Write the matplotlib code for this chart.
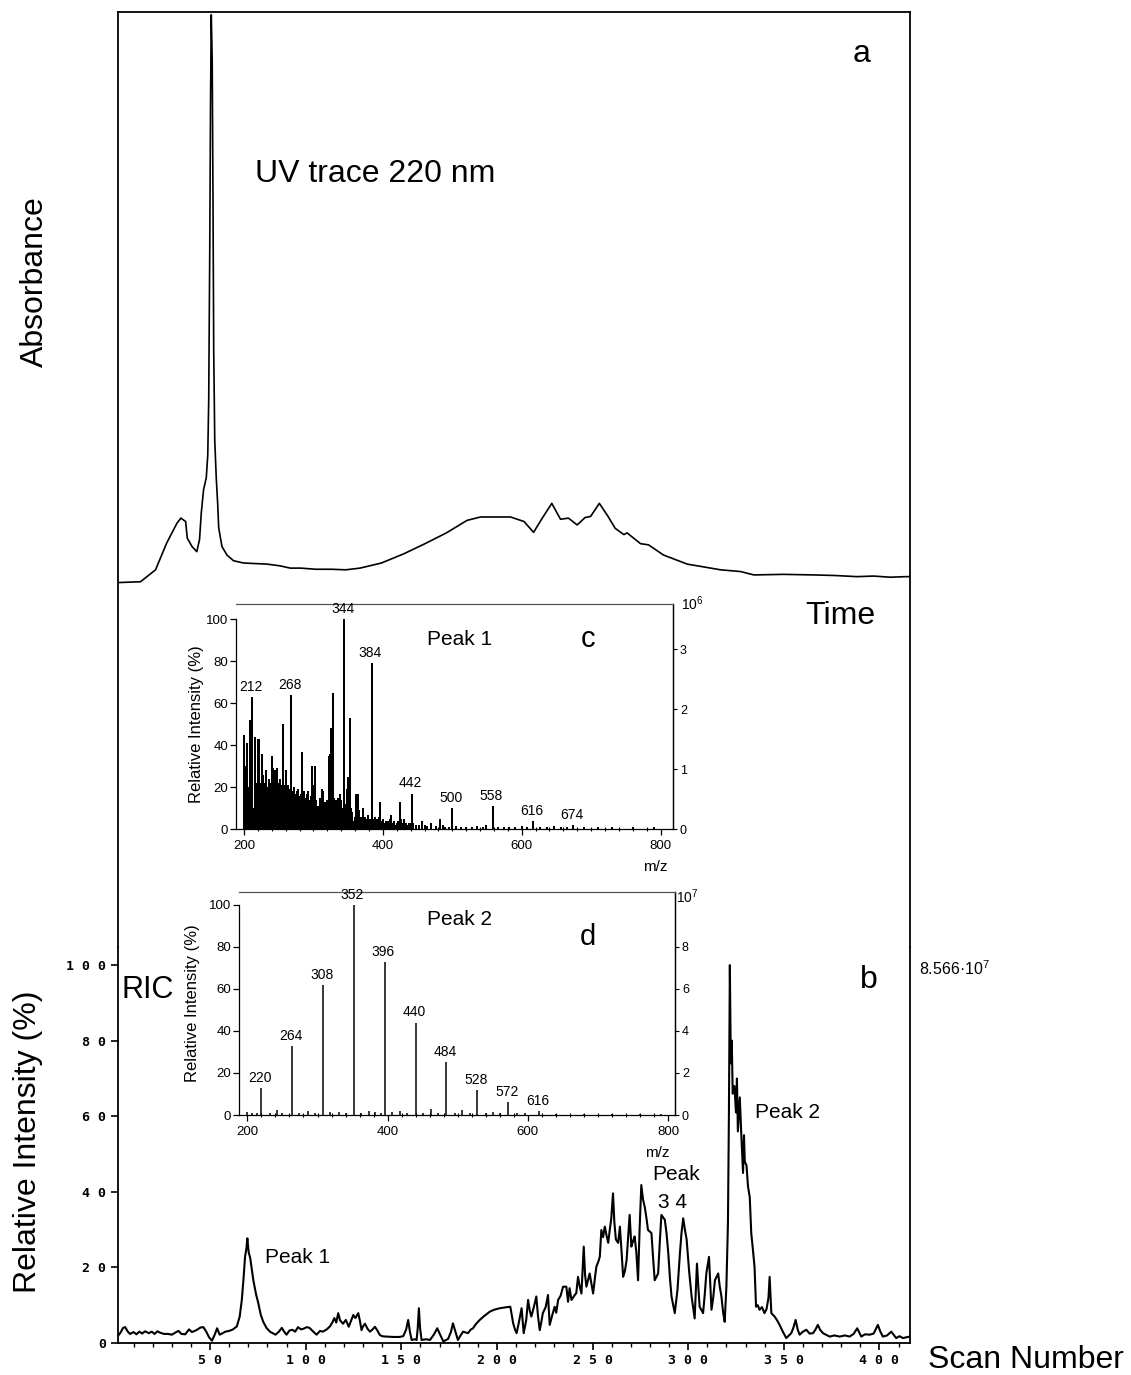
import numpy as np
import matplotlib
matplotlib.use("Agg")
import matplotlib.pyplot as plt
from matplotlib.ticker import MultipleLocator

plt.rcParams['font.family'] = ['Liberation Sans', 'DejaVu Sans']
plt.rcParams['mathtext.fontset'] = 'custom'
plt.rcParams['mathtext.rm'] = 'Liberation Sans'

W, H = 1131, 1375

# ---- panel a : UV trace (arbitrary time units 0-100, absorbance in % of max)
uv_time = [0, 2.9, 4.8, 6.2, 7.5, 8.0, 8.6, 8.8, 9.4, 10.0,
           10.35, 10.57, 10.86, 11.2, 11.39, 11.51, 11.64, 11.74, 11.83, 11.95,
           12.05, 12.14, 12.27, 12.46, 12.65, 12.77, 13.18, 13.81, 14.64, 15.9,
           18.9, 20.5, 21.8, 23.1, 25.0, 27.0, 28.8, 30.6, 33.3, 36.1,
           38.8, 41.5, 44.1, 45.8, 49.6, 51.3, 52.5, 53.6, 54.8, 55.9,
           56.9, 58.0, 59.0, 59.7, 60.8, 61.9, 62.8, 63.9, 64.3, 66.0,
           67.0, 68.9, 71.9, 73.6, 76.1, 78.6, 80.3, 84.0, 87.9, 90.5,
           93.3, 95.4, 97.5, 99.6, 100]
uv_abs = [0.05, 0.2, 2.3, 7.0, 10.5, 11.4, 10.8, 7.9, 6.4, 5.5,
          7.6, 12.3, 16.4, 18.5, 22.5, 32.2, 58.6, 85.0, 100.0, 92.1,
          67.4, 41.0, 25.2, 18.5, 13.7, 9.7, 6.4, 4.9, 3.9, 3.5,
          3.3, 3.0, 2.6, 2.6, 2.4, 2.4, 2.3, 2.6, 3.5, 5.1,
          6.9, 8.8, 11.0, 11.6, 11.6, 10.8, 8.9, 11.4, 14.0, 11.2,
          11.4, 10.2, 11.5, 11.7, 14.0, 11.7, 9.6, 8.5, 8.8, 6.9,
          6.7, 4.9, 3.3, 2.9, 2.3, 2.0, 1.4, 1.5, 1.4, 1.3,
          1.1, 1.2, 1.0, 1.1, 1.1]

# ---- panel b : reconstructed ion current
ric_scan = [2, 3, 4.5, 5.6, 7, 8.2, 10, 11.5, 13, 14.5,
            16, 18, 19.5, 21, 22.5, 24, 26, 28, 30, 32,
            33.5, 35, 37, 39, 40.5, 42, 43.5, 45, 46.5, 48,
            49.5, 51, 52.5, 53.7, 55, 56.6, 58, 60, 62, 64,
            65.5, 66.6, 67.5, 68.3, 69, 69.5, 70.2, 71, 71.8, 72.6,
            74, 75.2, 76.5, 77.8, 79.5, 81.3, 82.8, 84.2, 86, 87.5,
            89, 90, 91.5, 93, 94.5, 96, 97.5, 99, 100.5, 102,
            104, 105.7, 107.5, 109, 111, 112.7, 114, 115, 116, 117,
            118, 119.5, 121, 122.5, 124, 124.9, 126, 127.5, 128.5, 129.2,
            130, 131, 132.3, 133.6, 135, 136.2, 137.5, 138.8, 140, 142,
            146, 149, 151, 152.5, 153.6, 154.5, 155.4, 157, 158, 158.6,
            159.2, 159.8, 160.6, 163, 165, 167, 168.8, 170.5, 172, 174.5,
            176, 177, 178.3, 179.6, 181, 182.3, 184.9, 186.2, 187.5, 189,
            191, 193, 194.5, 196.3, 198.5, 201.5, 204, 207, 208.5, 209.5,
            210.3, 211.5, 212.9, 214, 215.3, 216.3, 217.2, 218, 219.3, 220.6,
            221.5, 222.4, 223.2, 224, 225.5, 226.7, 227.6, 229, 230.2, 231,
            232, 233.3, 234.6, 236.3, 237.2, 238, 239, 240.7, 241.5, 242.4,
            243.3, 244.2, 245.4, 246.1, 246.8, 247.6, 248.5, 250.3, 251.2, 252,
            253, 253.8, 254.6, 255.5, 256.4, 257.3, 258.2, 259, 259.8, 260.7,
            261.4, 262.2, 263.4, 264.3, 265.2, 266, 266.9, 267.8, 268.6, 269.4,
            270.3, 271.2, 272, 272.9, 273.8, 274.6, 275.5, 276.4, 277.3, 278.2,
            279, 280.8, 281.6, 282.5, 284.3, 285.2, 286, 287.8, 288.7, 289.6,
            290.5, 291.3, 293, 294.4, 295.7, 296.5, 297.4, 298.3, 299.2, 300.5,
            301.8, 303.4, 304.6, 305.3, 306, 307.8, 308.7, 309.5, 310.9, 312.2,
            313.1, 314, 315.7, 316.5, 317.4, 318.3, 319.1, 320, 320.8, 321.3,
            321.8, 322.3, 322.8, 323.3, 324.2, 325, 325.5, 326, 327, 327.8,
            328.7, 329.2, 329.6, 330.5, 331.3, 332.2, 333, 333.8, 334.7, 335.5,
            336.4, 337.3, 338.6, 339.9, 341, 342, 342.6, 343.5, 345.2, 346.5,
            347.8, 349.5, 351.3, 353.9, 355, 356.2, 357.3, 358.3, 360, 361.8,
            363.5, 365.3, 366.5, 367.8, 369, 370.5, 372, 374, 376.5, 379.2,
            382, 384.4, 386.5, 388.4, 390.5, 392.5, 394.9, 397, 399.2, 400.5,
            401.8, 404, 406.2, 408.8, 410.5, 412.3, 414, 415.8]
ric_pct = [2.0, 2.6, 4.0, 4.2, 3.0, 2.4, 2.9, 2.3, 3.0, 2.5,
           3.1, 2.6, 3.0, 2.4, 3.1, 2.7, 2.4, 2.4, 2.2, 2.8,
           3.2, 2.4, 2.3, 3.6, 2.9, 3.2, 3.6, 4.1, 4.2, 3.0,
           1.5, 0.6, 2.3, 3.9, 2.2, 2.6, 3.0, 3.2, 3.6, 4.4,
           7.0, 11.4, 17.0, 22.8, 25.0, 27.7, 24.0, 22.5, 19.5, 16.7,
           13.0, 10.6, 7.5, 5.6, 4.0, 3.0, 2.6, 2.2, 3.0, 4.0,
           2.8, 2.2, 3.3, 3.5, 3.0, 4.2, 3.6, 3.8, 4.2, 4.0,
           3.0, 2.2, 3.2, 3.0, 3.6, 4.4, 5.5, 6.6, 5.4, 7.9,
           6.0, 5.1, 6.1, 4.3, 6.2, 7.4, 6.6, 7.9, 5.5, 3.4,
           4.4, 5.1, 3.8, 3.0, 3.6, 4.3, 3.3, 2.1, 1.8, 1.7,
           1.6, 1.6, 1.8, 3.5, 6.1, 3.0, 0.8, 1.0, 0.8, 4.0,
           9.2, 4.0, 0.8, 1.0, 0.8, 2.2, 3.9, 2.0, 0.4, 1.1,
           3.0, 5.2, 3.0, 0.8, 2.0, 3.0, 2.6, 3.5, 3.9, 5.0,
           6.1, 7.0, 7.6, 8.3, 8.8, 9.2, 9.4, 9.6, 5.2, 3.5,
           2.6, 5.5, 9.2, 2.6, 6.0, 11.4, 8.5, 7.0, 9.5, 12.3,
           7.0, 3.4, 5.5, 7.9, 9.5, 12.7, 4.8, 7.5, 9.6, 8.0,
           11.4, 12.5, 14.9, 14.9, 10.9, 14.5, 11.4, 12.7, 13.2, 17.5,
           15.0, 13.1, 25.5, 18.0, 14.9, 16.5, 18.4, 13.1, 17.0, 20.2,
           21.5, 22.8, 29.9, 28.0, 30.8, 28.5, 26.5, 29.9, 33.0, 39.6,
           32.0, 27.4, 26.5, 30.8, 24.0, 17.5, 19.0, 21.9, 28.0, 33.9,
           25.5, 27.0, 28.2, 24.0, 16.6, 30.0, 41.8, 38.0, 36.0, 33.0,
           29.9, 29.1, 23.0, 16.6, 18.4, 27.0, 33.9, 32.6, 29.0, 23.8,
           17.0, 12.3, 7.9, 14.0, 23.8, 29.0, 33.0, 30.0, 27.4, 19.0,
           12.3, 6.5, 21.0, 15.0, 9.6, 7.9, 13.0, 18.4, 22.8, 8.8,
           12.0, 16.6, 18.4, 15.0, 12.3, 8.0, 5.6, 15.0, 31.7, 60.0,
           100, 74, 80, 66, 68, 61, 70, 56, 65, 55,
           45, 55, 48, 47, 41.4, 38.6, 29, 25, 20.2, 9.6,
           10, 8.8, 9.5, 7.9, 9, 12, 17.5, 7.9, 7.0, 6.0,
           4.8, 3.0, 1.3, 2.6, 4.0, 6.1, 3.5, 2.2, 3.0, 3.5,
           2.5, 2.6, 3.5, 4.8, 3.5, 2.6, 2.2, 1.7, 2.0, 1.7,
           2.0, 1.7, 2.4, 3.9, 1.7, 2.3, 2.2, 2.5, 4.8, 3.0,
           1.7, 2.0, 3.0, 1.3, 1.8, 1.3, 1.5, 1.7]

# ---- inset c : mass spectrum of peak 1
c_mz = [200, 202, 204, 206, 208, 210, 212, 214, 216, 218,
        220, 222, 224, 226, 228, 230, 232, 234, 236, 238,
        240, 242, 244, 246, 248, 250, 252, 254, 256, 258,
        260, 262, 264, 266, 268, 270, 272, 274, 276, 278,
        280, 282, 284, 286, 288, 290, 292, 294, 296, 298,
        300, 302, 304, 306, 308, 310, 312, 314, 316, 318,
        320, 322, 324, 326, 328, 330, 332, 334, 336, 338,
        340, 342, 344, 346, 348, 350, 352, 354, 356, 358,
        360, 362, 364, 366, 368, 370, 372, 374, 376, 378,
        380, 382, 384, 386, 388, 390, 392, 394, 396, 398,
        400, 402, 404, 406, 408, 410, 412, 414, 416, 418,
        420, 422, 424, 426, 428, 430, 432, 434, 436, 438,
        440, 442, 444, 448, 452, 456, 460, 464, 470, 476,
        482, 486, 490, 496, 500, 506, 512, 520, 528, 536,
        544, 548, 558, 566, 574, 582, 590, 600, 608, 616,
        626, 636, 646, 656, 666, 674, 690, 710, 730, 760,
        790]
c_int = [45, 30, 41, 20, 52, 12, 63, 10, 44, 22,
         43, 43, 22, 36, 26, 22, 28, 20, 24, 22,
         35, 29, 28, 27, 29, 22, 24, 21, 50, 21,
         28, 20, 21, 19, 64, 18, 20, 17, 18, 19,
         16, 17, 37, 18, 15, 17, 18, 14, 16, 30,
         21, 30, 14, 11, 9, 15, 19, 18, 13, 9,
         14, 35, 36, 48, 65, 15, 14, 12, 15, 17,
         14, 10, 100, 12, 19, 25, 53, 10, 8, 4,
         6, 17, 17, 9, 6, 4, 10, 6, 5, 7,
         4, 5, 79, 5, 6, 4, 5, 6, 13, 4,
         5, 3, 4, 3, 4, 5, 7, 3, 4, 2,
         3, 4, 13, 5, 3, 5, 2, 3, 2, 3,
         3, 17, 3, 2, 2, 4, 2, 1.5, 3, 1.5,
         5, 2, 1, 1, 10, 1.5, 1, 1, 1, 1.5,
         1, 2, 11, 1, 1, 1, 1, 1.5, 1, 4,
         1, 1, 1.5, 1, 1, 2, 1, 1, 1, 1,
         1]
c_labels = [212, 268, 344, 384, 442, 500, 558, 616, 674]

# ---- inset d : mass spectrum of peak 2
d_mz = [200, 206, 214, 220, 232, 242, 250, 264, 274, 286,
        296, 308, 318, 330, 340, 352, 362, 374, 382, 390,
        396, 406, 418, 428, 440, 450, 462, 472, 484, 496,
        506, 518, 528, 540, 550, 560, 572, 584, 596, 616,
        640, 680, 720, 760, 790]
d_int = [1.5, 0.8, 1, 13, 1, 2.5, 1, 33, 1, 2,
         1, 62, 1.5, 1.5, 1, 100, 1, 2, 1.5, 1,
         73, 1.5, 2, 1, 44, 1, 3, 1, 25, 1,
         2.5, 1, 12, 1, 1.5, 1, 6, 1, 0.8, 2,
         0.5, 0.5, 0.5, 0.5, 0.5]
d_labels = [220, 264, 308, 352, 396, 440, 484, 528, 572, 616]

fig = plt.figure(figsize=(W / 100, H / 100), dpi=100)


def px_axes(x0, y0, x1, y1):
    # axes placed by pixel box (top-left origin like the scan)
    return fig.add_axes([x0 / W, 1 - y1 / H, (x1 - x0) / W, (y1 - y0) / H])


def ptext(x, y, s, **kw):
    kw.setdefault('va', 'baseline')
    return fig.text(x / W, 1 - y / H, s, **kw)


# panel a, its frame runs down to panel b
ax_a = px_axes(117.5, 12, 910, 947)
ax_a.plot(uv_time, uv_abs, color='black', lw=1.2)
ax_a.set_xlim(0, 100)
ax_a.set_ylim(-64.1, 100.5)
ax_a.spines['bottom'].set_visible(False)
for s in ['top', 'left', 'right']:
    ax_a.spines[s].set_linewidth(1.3)
ax_a.set_xticks([])
ax_a.set_yticks([])
ax_a.patch.set_alpha(0)

# panel b
ax_b = px_axes(117.5, 947, 910, 1343)
ax_b.plot(ric_scan, ric_pct, color='black', lw=1.5)
ax_b.set_xlim(1.6, 416)
ax_b.set_ylim(0, 104.8)
ax_b.spines['top'].set_visible(False)
for s in ['left', 'right', 'bottom']:
    ax_b.spines[s].set_linewidth(1.3)
ax_b.set_yticks(range(0, 101, 20))
ax_b.set_yticklabels([' '.join(str(v)) for v in range(0, 101, 20)])
ax_b.set_xticks(range(50, 401, 50))
ax_b.set_xticklabels([' '.join(str(v)) for v in range(50, 401, 50)])
ax_b.xaxis.set_minor_locator(MultipleLocator(10))
ax_b.tick_params(which='major', direction='out', length=5, width=1.2, labelsize=9.5, pad=3)
ax_b.tick_params(axis='x', which='minor', direction='out', length=3, width=1)
for lab in ax_b.get_xticklabels() + ax_b.get_yticklabels():
    lab.set_family('DejaVu Sans Mono')
    lab.set_weight('bold')
ax_b.patch.set_alpha(0)


def spectrum_inset(box, mz, inten, labels, xlim, ytop, right_max, right_ticks, lw):
    ax = px_axes(*box)
    ax.vlines(mz, 0, inten, color='black', lw=lw)
    ax.set_xlim(*xlim)
    ax.set_ylim(0, ytop)
    ax.spines['left'].set_bounds(0, 100)
    for s in ax.spines.values():
        s.set_linewidth(0.9)
    ax.spines['top'].set_color('#555555')
    ax.set_yticks(range(0, 101, 20))
    ax.set_xticks([200, 400, 600, 800])
    ax.xaxis.set_minor_locator(MultipleLocator(20))
    ax.tick_params(which='major', direction='out', length=4, width=0.9, labelsize=9.5, pad=1.5)
    ax.tick_params(axis='x', which='major', pad=4)
    ax.tick_params(axis='x', which='minor', direction='inout', length=3, width=0.8)
    sec = ax.secondary_yaxis('right', functions=(lambda p: p * right_max / 100,
                                                 lambda v: v * 100 / right_max))
    sec.set_yticks(right_ticks)
    sec.tick_params(direction='out', length=3, width=0.8, labelsize=9, pad=2)
    sec.spines['right'].set_linewidth(0.9)
    peaks = dict(zip(mz, inten))
    for m in labels:
        ax.text(m - 2, peaks[m] + 1.5, str(m), ha='center', va='bottom', fontsize=10)
    ax.patch.set_alpha(0)
    return ax


ax_c = spectrum_inset((235.7, 604, 673, 829.3), c_mz, c_int, c_labels,
                      (188, 818), 107.2, 3.5, [0, 1, 2, 3], 1.45)
ax_d = spectrum_inset((239, 891.7, 675, 1115), d_mz, d_int, d_labels,
                      (188, 810), 106.3, 10, [0, 2, 4, 6, 8], 1.1)

# text
ptext(35, 282, 'Absorbance', rotation=90, ha='center', va='center', fontsize=23)
ptext(255, 182, 'UV trace 220 nm', fontsize=23)
ptext(853, 62, 'a', fontsize=23)
ptext(805, 624, 'Time', fontsize=23)
ptext(28, 1142, 'Relative Intensity (%)', rotation=90, ha='center', va='center', fontsize=23)
ptext(928, 1368, 'Scan Number', fontsize=23)
ptext(122, 998, 'RIC', fontsize=22)
ptext(860, 988, 'b', fontsize=23)
ptext(919, 975, '8.566·$10^{7}$', fontsize=11.5)
ptext(265, 1263, 'Peak 1', fontsize=15)
ptext(755, 1118, 'Peak 2', fontsize=15)
ptext(652, 1180, 'Peak', fontsize=15)
ptext(658, 1208, '3 4', fontsize=15)

ptext(427, 645, 'Peak 1', fontsize=15)
ptext(581, 647, 'c', fontsize=21)
ptext(643, 871, 'm/z', fontsize=11)
ptext(681, 610, '$10^{6}$', fontsize=10)
ptext(197, 724, 'Relative Intensity (%)', rotation=90, ha='center', va='center', fontsize=12)

ptext(427, 925, 'Peak 2', fontsize=15)
ptext(580, 945, 'd', fontsize=21)
ptext(645, 1157, 'm/z', fontsize=11)
ptext(676, 903, '$10^{7}$', fontsize=10)
ptext(193, 1003, 'Relative Intensity (%)', rotation=90, ha='center', va='center', fontsize=12)

fig.savefig('out.png', dpi=100)
